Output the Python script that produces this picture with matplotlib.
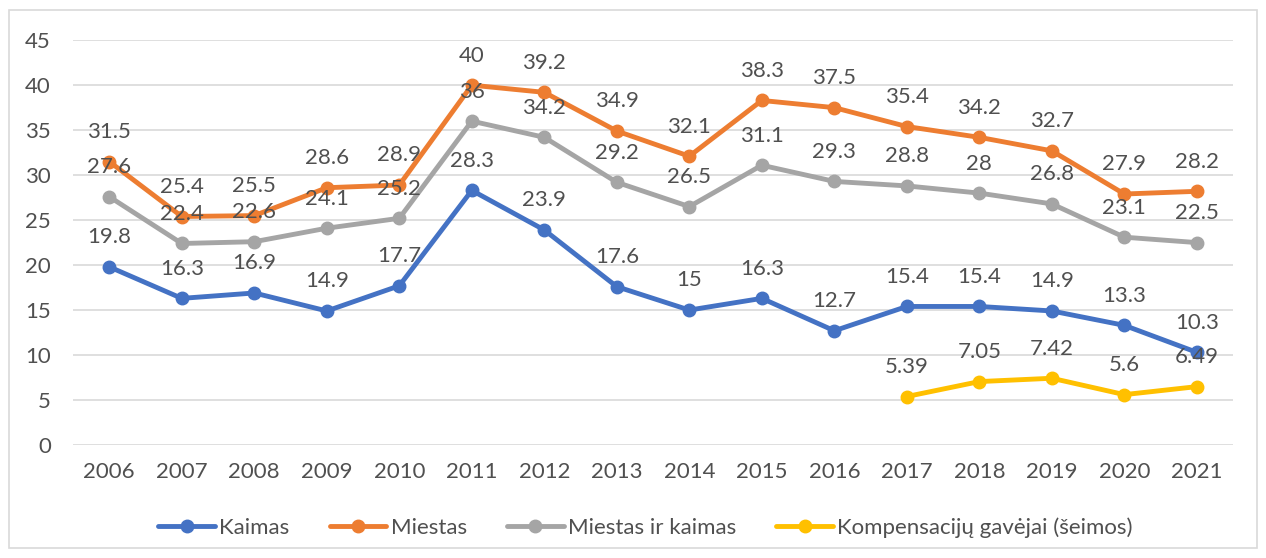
import matplotlib
matplotlib.use("Agg")
import matplotlib.pyplot as plt
from matplotlib.patches import Rectangle
import numpy as np

years = [str(y) for y in range(2006, 2022)]
kaimas = [19.8, 16.3, 16.9, 14.9, 17.7, 28.3, 23.9, 17.6, 15, 16.3, 12.7, 15.4, 15.4, 14.9, 13.3, 10.3]
miestas = [31.5, 25.4, 25.5, 28.6, 28.9, 40, 39.2, 34.9, 32.1, 38.3, 37.5, 35.4, 34.2, 32.7, 27.9, 28.2]
miestas_kaimas = [27.6, 22.4, 22.6, 24.1, 25.2, 36, 34.2, 29.2, 26.5, 31.1, 29.3, 28.8, 28, 26.8, 23.1, 22.5]
komp_years = ["2017", "2018", "2019", "2020", "2021"]
kompensacijos = [5.39, 7.05, 7.42, 5.6, 6.49]
kompensacijos_labels = ["5.39", "7.05", "7.42", "5.6", "6.49"]

series = [
    ("Kaimas", years, kaimas, "#4472C4", None),
    ("Miestas", years, miestas, "#ED7D31", None),
    ("Miestas ir kaimas", years, miestas_kaimas, "#A5A5A5", None),
    ("Kompensacijų gavėjai (šeimos)", komp_years, kompensacijos, "#FFC000", kompensacijos_labels),
]

plt.rcParams['font.family'] = ['Lato', 'DejaVu Sans']
txt = "#505050"
fs = 16

fig = plt.figure(figsize=(12.66, 5.58), dpi=100)
ax = fig.add_axes([0.0577, 0.2025, 0.9163, 0.7255])
xpos = {y: i for i, y in enumerate(years)}

handles = []
for name, xs, vals, col, labs in series:
    xi = [xpos[x] for x in xs]
    h, = ax.plot(xi, vals, color=col, lw=3.5, marker='o', ms=9, solid_capstyle='round', label=name, zorder=3)
    handles.append(h)
    for j, (x, v) in enumerate(zip(xi, vals)):
        lab = labs[j] if labs else (f"{v:g}")
        ax.annotate(lab, (x, v), xytext=(0, 17), textcoords='offset points',
                    ha='center', va='baseline', fontsize=fs, color=txt, zorder=4)

ax.set_xlim(-0.5, len(years) - 0.5)
ax.set_ylim(0, 45)
ax.set_yticks(range(0, 46, 5))
ax.set_xticks(range(len(years)))
ax.set_xticklabels(years)
ax.grid(axis='y', color='#D9D9D9', lw=1.2, zorder=0)
for s in ax.spines.values():
    s.set_visible(False)
ax.tick_params(axis='both', length=0, labelsize=fs, labelcolor=txt)
ax.tick_params(axis='y', pad=16)
ax.tick_params(axis='x', pad=12)

fig.legend(handles=handles, loc='center', bbox_to_anchor=(0.51, 0.054), ncol=4, frameon=False,
           fontsize=fs, labelcolor=txt, handlelength=2.55, columnspacing=1.8, handletextpad=0.2,
           borderpad=0, borderaxespad=0)

fig.patches.append(Rectangle((9 / 1266, 10 / 558), 1248 / 1266, 538 / 558, transform=fig.transFigure,
                             fill=False, edgecolor='#D9D9D9', lw=1.2))

fig.savefig("out.png", dpi=100)
